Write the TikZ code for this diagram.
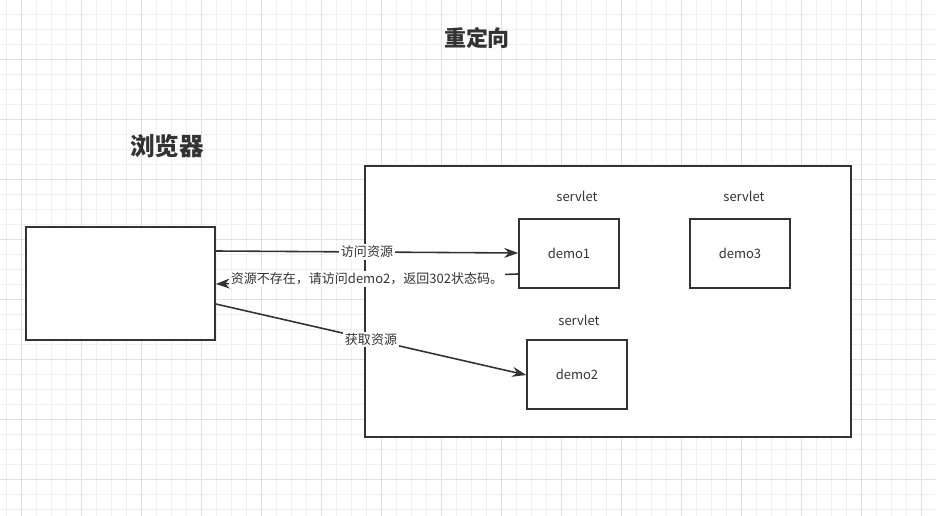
\documentclass[tikz,border=0pt]{standalone}
\usepackage{fontspec}
\setmainfont{Noto Sans CJK SC}
\usetikzlibrary{arrows.meta}
\definecolor{gridminor}{HTML}{F0F0F0}
\definecolor{gridmajor}{HTML}{E0E0E0}
\definecolor{ink}{HTML}{333333}

\begin{document}
\begin{tikzpicture}[x=0.02cm, y=-0.02cm, every node/.style={font=\fontsize{7.4}{8.5}\selectfont, text=ink}, >={Stealth[length=2.8mm, width=2mm]},
	box/.style={draw=ink, line width=0.9pt, fill=white, minimum width=2cm, minimum height=1.38cm, inner sep=0pt},
	lbl/.style={fill=white, inner sep=1pt},
	arrow/.style={->, draw=ink, line width=0.9pt}]
	\useasboundingbox (0,0) rectangle (936,516);
	\fill[white] (0,0) rectangle (936,516);
	% grid
	\foreach \x in {6,21,...,936} \draw[gridminor, line width=0.5pt] (\x,0) -- (\x,516);
	\foreach \y in {14,29,...,516} \draw[gridminor, line width=0.5pt] (0,\y) -- (936,\y);
	\foreach \x in {21,81,...,936} \draw[gridmajor, line width=0.5pt] (\x,0) -- (\x,516);
	\foreach \y in {59,119,...,516} \draw[gridmajor, line width=0.5pt] (0,\y) -- (936,\y);
	% titles
	\node[font=\bfseries\fontsize{12.5}{14}\selectfont] (title) at (477,38) {重定向};
	\node[font=\bfseries\fontsize{14}{16}\selectfont] (btitle) at (167,146) {浏览器};
	% boxes
	\node[box, minimum width=3.78cm, minimum height=2.26cm] (browser) at (120.5,283.5) {};
	\node[box, minimum width=9.72cm, minimum height=5.42cm] (server) at (608,301.5) {};
	\node[box] (demo1) at (569,253.5) {demo1};
	\node[box] (demo3) at (740,253.5) {demo3};
	\node[box] (demo2) at (577,374.5) {demo2};
	\node (s1) at (577,196) {servlet};
	\node (s3) at (744,196) {servlet};
	\node (s2) at (579,320) {servlet};
	% arrows
	\draw[arrow] (browser.east |- 0,251) -- node[lbl] {访问资源} (demo1.west |- 0,253);
	\draw[arrow] (demo1.west |- 0,274) -- node[lbl] {资源不存在，请访问demo2，返回302状态码。} (browser.east |- 0,284);
	\draw[arrow] (browser.east |- 0,304) -- node[lbl] {获取资源} (demo2.west |- 0,375);
\end{tikzpicture}
\end{document}
